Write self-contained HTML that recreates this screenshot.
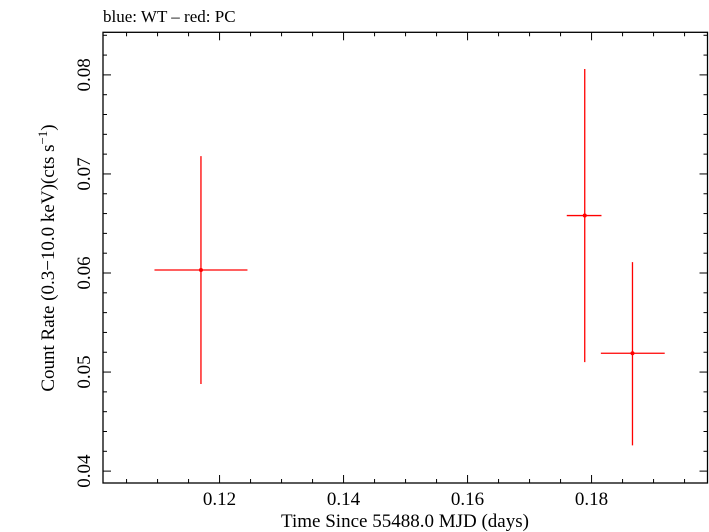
<!DOCTYPE html>
<html><head><meta charset="utf-8"><style>body{margin:0;background:#fff}svg{display:block}text{font-family:"Liberation Serif",serif;fill:#000}</style></head>
<body>
<svg id="c" width="709" height="532">
<text x="103" y="22" font-size="17">blue: WT – red: PC</text>
<rect x="103" y="32.3" width="604.5" height="450.7" fill="none" stroke="#000" stroke-width="1.3"/>
<g id="ticks"></g><g id="marks"></g>
<text x="405" y="527" font-size="19" text-anchor="middle">Time Since 55488.0 MJD (days)</text>
<text transform="translate(54,258) rotate(-90)" font-size="19" text-anchor="middle">Count Rate (0.3−10.0 keV)(cts s<tspan dy="-7" font-size="13">−1</tspan><tspan dy="7">)</tspan></text>
</svg>
<script>
const xTicks=[0.12,0.14,0.16,0.18];
const xTickLabels=["0.12","0.14","0.16","0.18"];
const yTicks=[0.04,0.05,0.06,0.07,0.08];
const yTickLabels=["0.04","0.05","0.06","0.07","0.08"];
const tMid=[0.1170,0.1789,0.1866];
const tLo=[0.1095,0.1760,0.1815];
const tHi=[0.1245,0.1816,0.1918];
const rate=[0.0603,0.0658,0.0519];
const rateLo=[0.0488,0.0510,0.0426];
const rateHi=[0.0718,0.0806,0.0611];
const X0=103,X1=707.5,Y0=483,Y1=32.3,xmin=0.1012,xmax=0.1987,ymin=0.0388,ymax=0.0843;
const sx=v=>X0+(v-xmin)/(xmax-xmin)*(X1-X0);
const sy=v=>Y0-(v-ymin)/(ymax-ymin)*(Y0-Y1);
const NS="http://www.w3.org/2000/svg";
function mk(t,a,p){const e=document.createElementNS(NS,t);for(const k in a)e.setAttribute(k,a[k]);p.appendChild(e);return e;}
const tg=document.getElementById('ticks'),mg=document.getElementById('marks');
for(let i=0;i<=20;i++){const v=0.10+i*0.005;if(v<xmin||v>xmax)continue;const x=sx(v);const maj=Math.abs(v*100-Math.round(v*100))<1e-6&&Math.round(v*100)%2==0;const L=maj?8:4;
const a=mk('line',{x1:x,x2:x,y1:Y0,y2:Y0-L,stroke:'#000','stroke-width':1},tg);
const b=mk('line',{x1:x,x2:x,y1:Y1,y2:Y1+L,stroke:'#000','stroke-width':1},tg);}
for(let i=0;i<=30;i++){const v=0.036+i*0.002;if(v<ymin||v>ymax)continue;const y=sy(v);const maj=Math.round(v*1000)%10==0;const L=maj?8:4;
const a=mk('line',{x1:X0,x2:X0+L,y1:y,y2:y,stroke:'#000','stroke-width':1},tg);
const b=mk('line',{x1:X1,x2:X1-L,y1:y,y2:y,stroke:'#000','stroke-width':1},tg);}
xTicks.forEach((v,i)=>{const t=mk('text',{x:sx(v),y:505,'font-size':19,'text-anchor':'middle'},tg);t.textContent=xTickLabels[i];});
yTicks.forEach((v,i)=>{const t=mk('text',{transform:`translate(90,${sy(v)}) rotate(-90)`,'font-size':19,'text-anchor':'middle'},tg);t.textContent=yTickLabels[i];});
tMid.forEach((v,i)=>{
const h=mk('line',{x1:sx(tLo[i]),x2:sx(tHi[i]),y1:sy(rate[i]),y2:sy(rate[i]),stroke:'#f00','stroke-width':1.3},mg);
const vv=mk('line',{x1:sx(v),x2:sx(v),y1:sy(rateLo[i]),y2:sy(rateHi[i]),stroke:'#f00','stroke-width':1.3},mg);
const c=mk('circle',{cx:sx(v),cy:sy(rate[i]),r:2,fill:'#f00'},mg);});
</script>
</body></html>
